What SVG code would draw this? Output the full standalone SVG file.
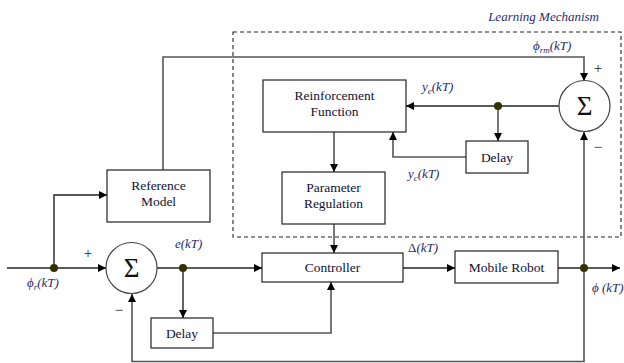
<svg xmlns="http://www.w3.org/2000/svg" width="624" height="363" viewBox="0 0 624 363">
<defs>
<marker id="ah" viewBox="0 0 10 10" refX="10" refY="5" markerWidth="9" markerHeight="8" markerUnits="userSpaceOnUse" orient="auto"><path d="M0,0 L10,5 L0,10 z" fill="#000"/></marker>
<style>
.box{fill:#fff;stroke:#222;stroke-width:1.2}
.sum{fill:#fff;stroke:#444;stroke-width:1.2}
.ln{fill:none;stroke:#222;stroke-width:1.4}
.gl{fill:none;stroke:#555;stroke-width:1.6}
text{font-family:'Liberation Serif','Times New Roman','DejaVu Serif',serif}
.t{font-size:13.5px;fill:#111133;text-anchor:middle}
.m{font-style:italic;font-size:13px;fill:#2a2a66}
.up{font-style:normal}
.s{font-size:27px;fill:#111;text-anchor:middle}
.pm{font-size:15px;fill:#222;text-anchor:middle}
.dot{fill:#333300}
</style>
</defs>
<rect width="624" height="363" fill="#fff"/>
<g id="learning-mechanism">
<rect x="233" y="32" width="388" height="205" fill="none" stroke="#222" stroke-width="1.1" stroke-dasharray="4,3"/>
<text x="599" y="21" class="m" text-anchor="end">Learning Mechanism</text>
</g>
<g id="connectors">
<path class="ln" d="M7,268 H106" marker-end="url(#ah)"/>
<path class="ln" d="M54,268 V195 H107" marker-end="url(#ah)"/>
<path class="gl" d="M163,170 V57 H584 V81" marker-end="url(#ah)"/>
<path class="ln" d="M157,268 H262" marker-end="url(#ah)"/>
<path class="ln" d="M183,268 V318" marker-end="url(#ah)"/>
<path class="gl" d="M213,333 H331 V282" marker-end="url(#ah)"/>
<path class="gl" d="M334,224 V253" marker-end="url(#ah)"/>
<path class="gl" d="M334,132 V172" marker-end="url(#ah)"/>
<path class="ln" d="M559,106 H406" marker-end="url(#ah)"/>
<path class="gl" d="M498,106 V141" marker-end="url(#ah)"/>
<path class="gl" d="M466,157 H393 V132" marker-end="url(#ah)"/>
<path class="ln" d="M403,268 H455" marker-end="url(#ah)"/>
<path class="ln" d="M558,268 H620" marker-end="url(#ah)"/>
<path class="gl" d="M584,268 V132" marker-end="url(#ah)"/>
<path class="gl" d="M584,268 V361.5 H132 V294" marker-end="url(#ah)"/>
<circle class="dot" cx="54" cy="268" r="4"/>
<circle class="dot" cx="183" cy="268" r="4"/>
<circle class="dot" cx="498" cy="106" r="4"/>
<circle class="dot" cx="584" cy="268" r="4"/>
</g>
<g id="labels">
<text x="27" y="287" class="m">ϕ<tspan font-size="9" dy="3">r</tspan><tspan dy="-3">(kT)</tspan></text>
<text x="175" y="248" class="m">e(kT)</text>
<text x="408" y="252" class="m"><tspan class="up">Δ</tspan>(kT)</text>
<text x="592" y="292" class="m">ϕ (kT)</text>
<text x="533" y="50" class="m">ϕ<tspan font-size="9" dy="3">rm</tspan><tspan dy="-3">(kT)</tspan></text>
<text x="422" y="91" class="m">y<tspan font-size="9" dy="3">e</tspan><tspan dy="-3">(kT)</tspan></text>
<text x="408" y="178" class="m">y<tspan font-size="9" dy="3">c</tspan><tspan dy="-3">(kT)</tspan></text>
<text x="88" y="258" class="pm">+</text>
<text x="119" y="315" class="pm">−</text>
<text x="598" y="73" class="pm">+</text>
<text x="598" y="152" class="pm">−</text>
</g>
<g id="sum1"><circle class="sum" cx="131.5" cy="268" r="25.5"/><text x="131.5" y="277" class="s">Σ</text></g>
<g id="sum2"><circle class="sum" cx="584.5" cy="106" r="25.5"/><text x="584.5" y="115" class="s">Σ</text></g>
<g id="reference-model"><rect class="box" x="107" y="170" width="103" height="52"/><text x="158.5" y="190" class="t">Reference</text><text x="158.5" y="206" class="t">Model</text></g>
<g id="reinforcement-function"><rect class="box" x="263" y="80" width="143" height="52"/><text x="334.5" y="100" class="t">Reinforcement</text><text x="334.5" y="116" class="t">Function</text></g>
<g id="delay-top"><rect class="box" x="466" y="141" width="62" height="32"/><text x="497" y="161.5" class="t">Delay</text></g>
<g id="parameter-regulation"><rect class="box" x="282" y="172" width="103" height="52"/><text x="333.5" y="192" class="t">Parameter</text><text x="333.5" y="208" class="t">Regulation</text></g>
<g id="controller"><rect class="box" x="262" y="253" width="141" height="29"/><text x="332.5" y="272" class="t">Controller</text></g>
<g id="mobile-robot"><rect class="box" x="455" y="251" width="103" height="32"/><text x="506.5" y="271.5" class="t">Mobile Robot</text></g>
<g id="delay-bottom"><rect class="box" x="151" y="318" width="62" height="30"/><text x="182" y="337.5" class="t">Delay</text></g>
</svg>
